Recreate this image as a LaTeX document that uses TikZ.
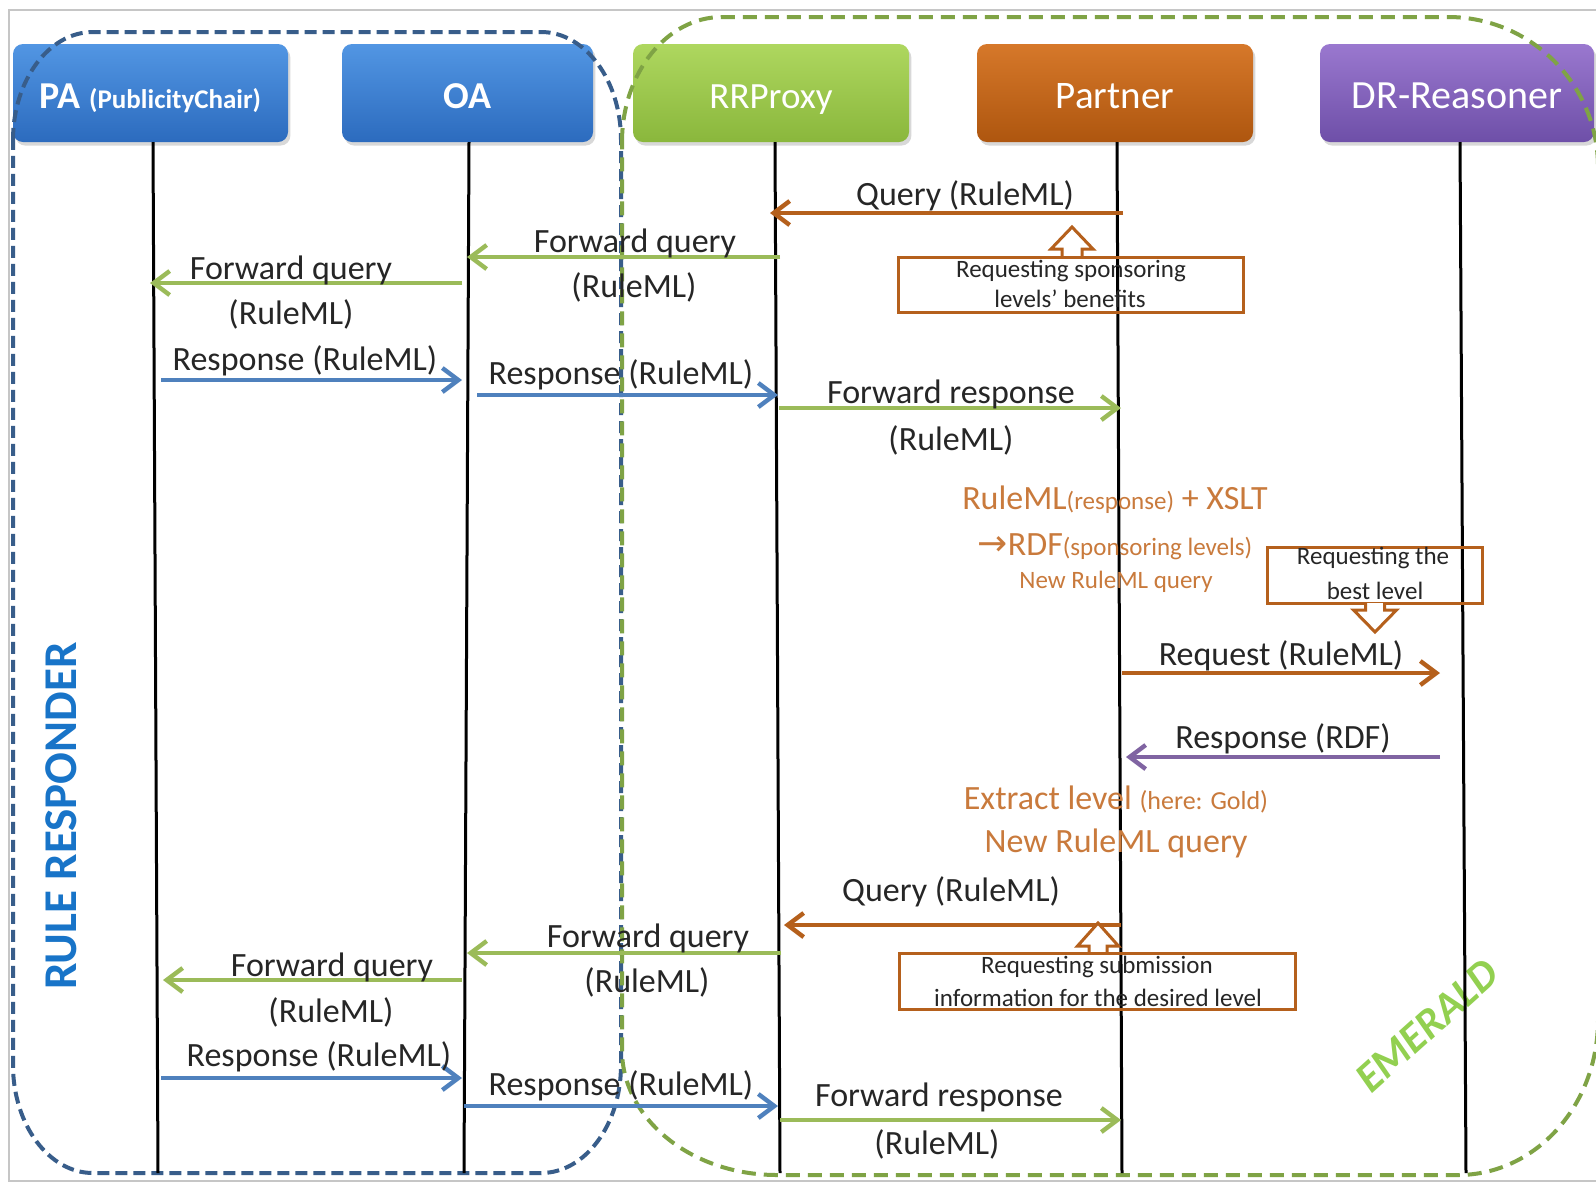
\documentclass[tikz,border=0pt]{standalone}
\usepackage{fontspec}
\setmainfont{Carlito}
\newfontfamily\arrowfont{DejaVu Sans}
\usetikzlibrary{arrows.meta,shadows}
\definecolor{msgblue}{HTML}{4F81BD}
\definecolor{msggreen}{HTML}{9BBB59}
\definecolor{msgorange}{HTML}{B5601C}
\definecolor{msgpurple}{HTML}{8064A2}
\definecolor{notecol}{HTML}{C97A3C}
\definecolor{rrblue}{HTML}{385D8A}
\definecolor{emline}{HTML}{7FA345}
\definecolor{emtext}{HTML}{92D050}
\definecolor{rrtext}{HTML}{1874C8}
\definecolor{txt}{HTML}{262626}
\definecolor{bluT}{HTML}{5296E3}
\definecolor{bluB}{HTML}{2C6BBE}
\definecolor{grnT}{HTML}{AED75F}
\definecolor{grnB}{HTML}{8AB73C}
\definecolor{orgT}{HTML}{D6782A}
\definecolor{orgB}{HTML}{AE560F}
\definecolor{purT}{HTML}{9A78CF}
\definecolor{purB}{HTML}{6E4FA8}
\begin{document}
\begin{tikzpicture}[x=0.5pt,y=-0.5pt,
  hdr/.style={rounded corners=5pt, minimum height=49pt, inner sep=0pt, text=white,
    text height=15pt, text depth=0pt,
    font=\fontsize{18.5}{22}\selectfont,
    drop shadow={shadow xshift=1.2pt, shadow yshift=-1.8pt, opacity=0.3}},
  life/.style={line width=1.5pt, black},
  msg/.style={line width=2.2pt, -{Straight Barb[length=8pt,width=12pt]}},
  lbl/.style={font=\fontsize{17}{20}\selectfont, text=txt, inner sep=0pt},
  boxtxt/.style={font=\fontsize{12.5}{15}\selectfont, text=txt, inner sep=0pt},
  notebox/.style={draw=msgorange, line width=1.5pt, inner sep=0pt},
  blockarrow/.style={draw=msgorange, line width=1.5pt, fill=white, line join=miter},
  bignote/.style={font=\fontsize{17}{20}\selectfont, text=notecol, inner sep=0pt},
  smallnote/.style={font=\fontsize{12.5}{15}\selectfont, text=notecol, inner sep=0pt},
  rrdash/.style={rrblue, line width=2pt, dash pattern=on 6pt off 3pt},
  emdash/.style={emline, line width=2pt, dash pattern=on 7pt off 4pt}
]
\clip (0,0) rectangle (1596,1185);
\fill[white] (0,0) rectangle (1596,1185);
% outer frame
\draw[gray!45, line width=1pt] (9,10) rectangle (1640,1181);

% header boxes
\node[hdr, minimum width=137.5pt, top color=bluT, bottom color=bluB] (pa) at (150.5,93)
  {\bfseries\fontsize{19}{22}\selectfont PA \fontsize{13.5}{16}\selectfont(PublicityChair)};
\node[hdr, minimum width=125.5pt, top color=bluT, bottom color=bluB] (oa) at (467.5,93)
  {\bfseries\fontsize{19}{22}\selectfont OA};
\node[hdr, minimum width=138pt, top color=grnT, bottom color=grnB] (rr) at (771,93) {RRProxy};
\node[hdr, minimum width=138pt, top color=orgT, bottom color=orgB] (pt) at (1115,93) {\fontsize{19.5}{22}\selectfont Partner};
\node[hdr, minimum width=137pt, top color=purT, bottom color=purB] (dr) at (1457,93) {\fontsize{20}{22}\selectfont DR-Reasoner};

% group outlines
\draw[rrdash] (13,140) .. controls (13,80.4) and (48.8,32) .. (93,32) -- (541,32)
  .. controls (585.2,32) and (621,80.4) .. (621,140) -- (621,1065)
  .. controls (621,1124.6) and (585.2,1173) .. (541,1173) -- (93,1173)
  .. controls (48.8,1173) and (13,1124.6) .. (13,1065) -- cycle;
\draw[emdash] (622,142) .. controls (622,73) and (666.8,17) .. (722,17) -- (1448,17)
  .. controls (1530.8,17) and (1598,84.2) .. (1598,167) -- (1598,1020)
  .. controls (1598,1105.6) and (1535.3,1175) .. (1458,1175) -- (777,1175)
  .. controls (691.4,1175) and (622,1119) .. (622,1050) -- cycle;

\node[font=\bfseries\fontsize{23.5}{26}\selectfont, text=rrtext, rotate=90, inner sep=0pt] (rrlabel) at (61,816) {RULE RESPONDER};
\node[font=\bfseries\itshape\fontsize{21.5}{24}\selectfont, text=emtext, rotate=42, inner sep=0pt] (emlabel) at (1427,1026) {EMERALD};

% lifelines
\coordinate (paT) at (153,142); \coordinate (paB) at (158,1173);
\coordinate (oaT) at (469,142); \coordinate (oaB) at (464,1173);
\coordinate (rrT) at (775,142); \coordinate (rrB) at (780,1173);
\coordinate (ptT) at (1117,142); \coordinate (ptB) at (1122,1173);
\coordinate (drT) at (1460,142); \coordinate (drB) at (1466,1173);
\draw[life] (paT) -- (paB);
\draw[life] (oaT) -- (oaB);
\draw[life] (rrT) -- (rrB);
\draw[life] (ptT) -- (ptB);
\draw[life] (drT) -- (drB);

% message end points
\coordinate (m1s) at (1123,213);  \coordinate (m1e) at (770,213);
\coordinate (m2s) at (780,257);   \coordinate (m2e) at (467,257);
\coordinate (m3s) at (462,283);   \coordinate (m3e) at (150,283);
\coordinate (m4s) at (161,380);   \coordinate (m4e) at (462,380);
\coordinate (m5s) at (477,395);   \coordinate (m5e) at (778,395);
\coordinate (m6s) at (779,408);   \coordinate (m6e) at (1121,408);
\coordinate (m7s) at (1122,673);  \coordinate (m7e) at (1440,673);
\coordinate (m8s) at (1440,757);  \coordinate (m8e) at (1126,757);
\coordinate (m9s) at (1121,925);  \coordinate (m9e) at (784,925);
\coordinate (m10s) at (781,953);  \coordinate (m10e) at (467,953);
\coordinate (m11s) at (462,980);  \coordinate (m11e) at (163,980);
\coordinate (m12s) at (161,1078); \coordinate (m12e) at (462,1078);
\coordinate (m13s) at (464,1106); \coordinate (m13e) at (778,1106);
\coordinate (m14s) at (780,1120); \coordinate (m14e) at (1121,1120);

\draw[msg, msgorange] (m1s) -- (m1e);
\draw[msg, msggreen] (m2s) -- (m2e);
\draw[msg, msggreen] (m3s) -- (m3e);
\draw[msg, msgblue] (m4s) -- (m4e);
\draw[msg, msgblue] (m5s) -- (m5e);
\draw[msg, msggreen] (m6s) -- (m6e);
\draw[msg, msgorange] (m7s) -- (m7e);
\draw[msg, msgpurple] (m8s) -- (m8e);
\draw[msg, msgorange] (m9s) -- (m9e);
\draw[msg, msggreen] (m10s) -- (m10e);
\draw[msg, msggreen] (m11s) -- (m11e);
\draw[msg, msgblue] (m12s) -- (m12e);
\draw[msg, msgblue] (m13s) -- (m13e);
\draw[msg, msggreen] (m14s) -- (m14e);

% message labels
\node[lbl] (l1) at (965,196) {Query (RuleML)};
\node[lbl] (l2a) at (635,243) {Forward query};
\node[lbl] (l2b) at (634,287) {(RuleML)};
\node[lbl] (l3a) at (291,270) {Forward query};
\node[lbl] (l3b) at (291,314) {(RuleML)};
\node[lbl] (l4) at (305,361) {Response (RuleML)};
\node[lbl] (l5) at (621,375) {Response (RuleML)};
\node[lbl] (l6a) at (951,394) {Forward response};
\node[lbl] (l6b) at (951,440) {(RuleML)};
\node[lbl] (l7) at (1281,656) {Request (RuleML)};
\node[lbl] (l8) at (1283,739) {Response (RDF)};
\node[lbl] (l9) at (951,892) {Query (RuleML)};
\node[lbl] (l10a) at (648,938) {Forward query};
\node[lbl] (l10b) at (647,982) {(RuleML)};
\node[lbl] (l11a) at (332,967) {Forward query};
\node[lbl] (l11b) at (331,1012) {(RuleML)};
\node[lbl] (l12) at (319,1057) {Response (RuleML)};
\node[lbl] (l13) at (621,1086) {Response (RuleML)};
\node[lbl] (l14a) at (939,1097) {Forward response};
\node[lbl] (l14b) at (937,1144) {(RuleML)};

% note boxes with block arrows
\draw[blockarrow] (1062,257) -- (1062,249) -- (1051,249) -- (1072,227) -- (1093,249) -- (1082,249) -- (1082,257);
\node[notebox, minimum width=172.5pt, minimum height=27.5pt] (nb1) at (1070.5,284.5) {};
\node[boxtxt] (nb1a) at (1071,271) {Requesting sponsoring};
\node[boxtxt] (nb1b) at (1070,299) {levels’ benefits};

\node[notebox, minimum width=107.5pt, minimum height=28pt] (nb2) at (1374.5,575) {};
\draw[blockarrow] (1365.5,603) -- (1365.5,610) -- (1353.5,610) -- (1375,632) -- (1396.5,610) -- (1384.5,610) -- (1384.5,603);
\node[boxtxt] (nb2a) at (1373,558) {Requesting the};
\node[boxtxt] (nb2b) at (1375,591) {best level};

\draw[blockarrow] (1089,953) -- (1089,946) -- (1077.5,946) -- (1098,923) -- (1118.5,946) -- (1107,946) -- (1107,953);
\node[notebox, minimum width=198pt, minimum height=28pt] (nb3) at (1097,981) {};
\node[boxtxt] (nb3a) at (1097,967) {Requesting submission};
\node[boxtxt] (nb3b) at (1098,998) {information for the desired level};

% processing notes
\node[bignote] (n1) at (1115,500) {RuleML\fontsize{12.5}{15}\selectfont(response)\fontsize{17}{20}\selectfont{} + XSLT};
\node[bignote] (n2) at (1115,547) {{\arrowfont\fontsize{18}{20}\selectfont →}RDF\fontsize{12.5}{15}\selectfont(sponsoring levels)};
\node[smallnote] (n3) at (1116,582) {New RuleML query};
\node[bignote] (n4) at (1116,799) {Extract level \fontsize{13}{15}\selectfont(here: Gold)};
\node[bignote] (n5) at (1116,843) {New RuleML query};
\end{tikzpicture}
\end{document}
